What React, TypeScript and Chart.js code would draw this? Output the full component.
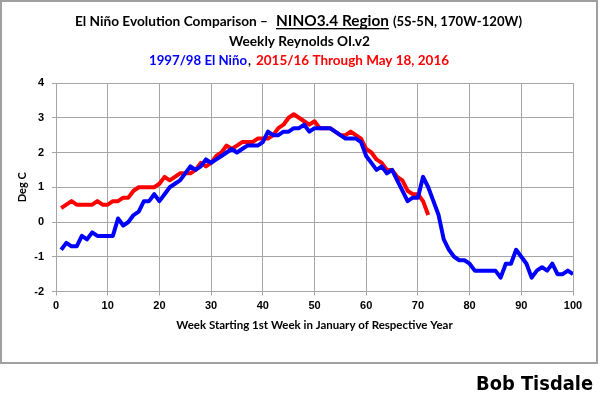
import React, { useEffect, useRef } from "react";
import { Chart, registerables } from "chart.js";

Chart.register(...registerables);

// Weekly NINO3.4 anomalies (Deg C), starting week 1
const elNino1997: number[] = [
  -0.8, -0.6, -0.7, -0.7, -0.4, -0.5, -0.3, -0.4, -0.4, -0.4,
  -0.4, 0.1, -0.1, 0.0, 0.2, 0.3, 0.6, 0.6, 0.8, 0.6,
  0.8, 1.0, 1.1, 1.2, 1.4, 1.6, 1.5, 1.6, 1.8, 1.7,
  1.8, 1.9, 2.0, 2.1, 2.0, 2.1, 2.2, 2.2, 2.2, 2.3,
  2.6, 2.5, 2.5, 2.6, 2.6, 2.7, 2.7, 2.8, 2.6, 2.7,
  2.7, 2.7, 2.7, 2.6, 2.5, 2.4, 2.4, 2.4, 2.3, 1.9,
  1.7, 1.5, 1.6, 1.4, 1.5, 1.2, 0.9, 0.6, 0.7, 0.7,
  1.3, 1.0, 0.6, 0.2, -0.5, -0.8, -1.0, -1.1, -1.1, -1.2,
  -1.4, -1.4, -1.4, -1.4, -1.4, -1.6, -1.2, -1.2, -0.8, -1.0,
  -1.2, -1.6, -1.4, -1.3, -1.4, -1.2, -1.5, -1.5, -1.4, -1.5,
];

const elNino2015: number[] = [
  0.4, 0.5, 0.6, 0.5, 0.5, 0.5, 0.5, 0.6, 0.5, 0.5,
  0.6, 0.6, 0.7, 0.7, 0.9, 1.0, 1.0, 1.0, 1.0, 1.1,
  1.3, 1.2, 1.3, 1.4, 1.4, 1.4, 1.5, 1.7, 1.6, 1.7,
  1.9, 2.0, 2.2, 2.1, 2.2, 2.3, 2.3, 2.3, 2.4, 2.4,
  2.4, 2.5, 2.7, 2.8, 3.0, 3.1, 3.0, 2.9, 2.8, 2.9,
  2.7, 2.7, 2.7, 2.6, 2.5, 2.5, 2.6, 2.5, 2.4, 2.1,
  2.0, 1.8, 1.7, 1.5, 1.5, 1.3, 1.2, 0.9, 0.8, 0.8,
  0.6, 0.2,
];

const FIRST_WEEK = 1;
const xTickRange = { min: 0, max: 100, step: 10 };
const yTickRange = { min: -2, max: 4, step: 1 };

const title1a = "El Niño Evolution Comparison –";
const title1b = "NINO3.4 Region";
const title1c = "(5S-5N, 170W-120W)";
const title2 = "Weekly Reynolds OI.v2";
const title3a = "1997/98 El Niño";
const title3comma = ",";
const title3b = "2015/16 Through May 18, 2016";
const xTitle = "Week Starting 1st Week in January of Respective Year";
const yTitle = "Deg C";
const credit = "Bob Tisdale";

const BLUE = "#0000ff";
const RED = "#ff0000";
const GRID = "#a6a6a6";
const TFONT = "Lato, 'Liberation Sans', sans-serif";

function drawFit(
  ctx: CanvasRenderingContext2D,
  text: string,
  x: number,
  baseline: number,
  width: number,
  size: number,
  family: string,
  color: string,
  underline = false
) {
  ctx.save();
  ctx.font = `bold ${size}px ${family}`;
  const w = ctx.measureText(text).width;
  ctx.translate(x, baseline);
  ctx.scale(width / w, 1);
  ctx.fillStyle = color;
  ctx.textAlign = "left";
  ctx.textBaseline = "alphabetic";
  ctx.fillText(text, 0, 0);
  ctx.restore();
  if (underline) {
    ctx.fillStyle = color;
    ctx.fillRect(x, baseline + 2, width, 1.3);
  }
}

const decorPlugin = {
  id: "decor",
  beforeDraw(chart: any) {
    const ctx = chart.ctx as CanvasRenderingContext2D;
    ctx.save();
    ctx.fillStyle = "#ffffff";
    ctx.fillRect(0, 0, chart.width, chart.height);
    ctx.restore();
  },
  afterDraw(chart: any) {
    const ctx = chart.ctx as CanvasRenderingContext2D;
    ctx.save();
    ctx.strokeStyle = "#a0a0a0";
    ctx.lineWidth = 2;
    ctx.strokeRect(1, 1, 596, 362);

    drawFit(ctx, title1a, 75, 26, 193, 13, TFONT, "#000");
    drawFit(ctx, title1b, 276, 26, 113, 15.5, TFONT, "#000", true);
    drawFit(ctx, title1c, 393, 26, 129, 13, TFONT, "#000");
    drawFit(ctx, title2, 229, 46, 141, 13, TFONT, "#000");
    drawFit(ctx, title3a, 149, 65, 98, 13.5, TFONT, BLUE);
    drawFit(ctx, title3comma, 248, 65, 3, 13.5, TFONT, "#000");
    drawFit(ctx, title3b, 256, 65, 193, 13.5, TFONT, RED);

    drawFit(ctx, credit, 476, 390, 117, 20, "'DejaVu Sans', sans-serif", "#000");
    ctx.restore();
  },
};

export default function App() {
  const ref = useRef<HTMLCanvasElement | null>(null);

  useEffect(() => {
    if (!ref.current) return;
    const chart = new Chart(ref.current, {
      type: "line",
      data: {
        datasets: [
          {
            label: "1997/98",
            data: elNino1997.map((v, i) => ({ x: i + FIRST_WEEK, y: v })),
            borderColor: BLUE,
            backgroundColor: BLUE,
            borderWidth: 4,
            pointRadius: 0,
            tension: 0,
            borderJoinStyle: "round",
          },
          {
            label: "2015/16",
            data: elNino2015.map((v, i) => ({ x: i + FIRST_WEEK, y: v })),
            borderColor: RED,
            backgroundColor: RED,
            borderWidth: 4,
            pointRadius: 0,
            tension: 0,
            borderJoinStyle: "round",
          },
        ],
      },
      options: {
        responsive: false,
        animation: false,
        devicePixelRatio: 1,
        layout: { padding: { top: 83, left: 12, right: 27, bottom: 59.5 } },
        plugins: {
          legend: { display: false },
          title: { display: false },
          tooltip: { enabled: false },
        },
        scales: {
          x: {
            type: "linear",
            min: xTickRange.min,
            max: xTickRange.max,
            afterFit: (s: any) => {
              s.height = 45;
            },
            ticks: {
              stepSize: xTickRange.step,
              padding: 4,
              color: "#000",
              font: { family: "'Liberation Sans', Arial, sans-serif", size: 11, weight: "bold" },
              maxRotation: 0,
            },
            grid: { color: GRID, tickLength: 4, lineWidth: 1 },
            border: { color: GRID, width: 1 },
            title: {
              display: true,
              text: xTitle,
              color: "#000",
              font: { family: TFONT, size: 11.5, weight: "bold" },
              padding: { top: 4, bottom: 4 },
            },
          },
          y: {
            type: "linear",
            min: yTickRange.min,
            max: yTickRange.max,
            afterFit: (s: any) => {
              s.width = 44;
            },
            ticks: {
              stepSize: yTickRange.step,
              padding: 8,
              color: "#000",
              font: { family: "'Liberation Sans', Arial, sans-serif", size: 11, weight: "bold" },
            },
            grid: { color: GRID, tickLength: 4, lineWidth: 1 },
            border: { color: GRID, width: 1 },
            title: {
              display: true,
              text: yTitle,
              color: "#000",
              font: { family: TFONT, size: 11, weight: "bold" },
              padding: { top: 4, bottom: 4 },
            },
          },
        },
      },
      plugins: [decorPlugin],
    } as any);
    return () => chart.destroy();
  }, []);

  return (
    <div style={{ position: "fixed", left: 0, top: 0, width: 600, height: 396, background: "#fff" }}>
      <canvas ref={ref} width={600} height={396} style={{ display: "block", width: 600, height: 396 }} />
    </div>
  );
}
